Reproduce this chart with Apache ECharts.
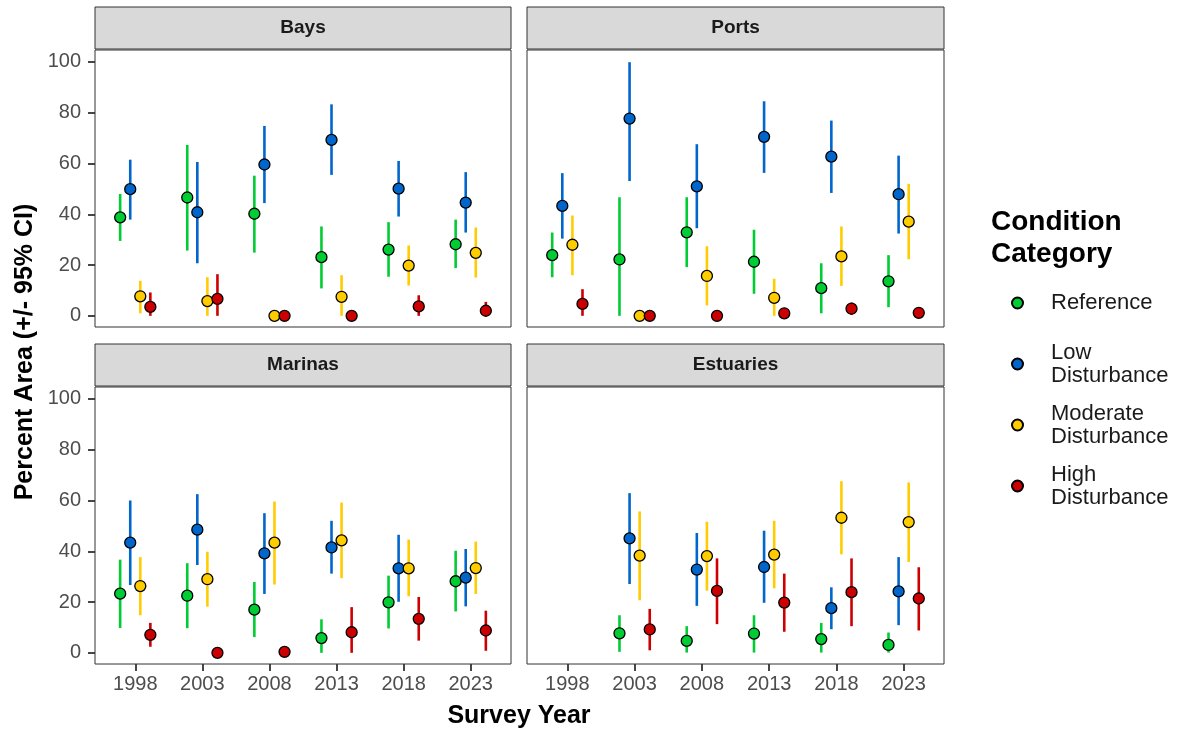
<!DOCTYPE html>
<html>
<head>
<meta charset="utf-8">
<script src="https://cdn.jsdelivr.net/npm/echarts@6/dist/echarts.min.js"></script>
<style>
  html, body { margin: 0; padding: 0; background: #ffffff; }
  #chart { width: 1179px; height: 733px; }
</style>
</head>
<body>
<div id="chart"></div>
<script>
// Survey years and condition categories
const years = ['1998', '2003', '2008', '2013', '2018', '2023'];
const categories = ['Reference', 'Low Disturbance', 'Moderate Disturbance', 'High Disturbance'];
const habitats = ['Bays', 'Ports', 'Marinas', 'Estuaries'];

// Each entry: [estimate, lower 95% CI, upper 95% CI] per survey year (null = not surveyed)
const bays_reference = [[38.8, 29.5, 48.0], [46.6, 25.7, 67.3], [40.2, 24.9, 55.2], [23.1, 10.8, 35.2], [26.1, 15.4, 36.9], [28.2, 18.8, 37.9]];
const bays_low       = [[49.9, 37.9, 61.5], [40.8, 20.7, 60.6], [59.6, 44.4, 74.8], [69.3, 55.5, 83.3], [50.1, 39.1, 61.0], [44.6, 32.8, 56.6]];
const bays_moderate  = [[7.7, 1.0, 13.8], [5.8, 0, 15.2], [0, 0, 0], [7.5, 0, 16.0], [19.8, 11.9, 27.7], [24.8, 15.1, 34.8]];
const bays_high      = [[3.5, 0, 9.2], [6.7, 0, 16.4], [0, 0, 0], [0, 0, 0], [3.7, 0, 8.1], [2.0, 0, 5.5]];

const ports_reference = [[23.9, 15.2, 32.8], [22.2, 0, 46.7], [32.9, 19.2, 46.7], [21.3, 8.7, 33.9], [10.9, 1.0, 20.7], [13.6, 3.4, 23.9]];
const ports_low       = [[43.3, 30.4, 56.2], [77.7, 53.1, 99.9], [51.0, 34.5, 67.6], [70.5, 56.3, 84.5], [62.7, 48.4, 76.9], [47.9, 32.4, 63.1]];
const ports_moderate  = [[28.0, 16.0, 39.5], [0, 0, 0], [15.7, 4.1, 27.4], [7.1, 0, 14.6], [23.4, 11.8, 35.2], [37.1, 22.3, 52.0]];
const ports_high      = [[4.7, 0, 10.5], [0, 0, 0], [0, 0, 0], [1.0, 0, 2.4], [2.8, 0.4, 5.2], [1.2, 0, 2.8]];

const marinas_reference = [[23.3, 9.8, 36.7], [22.5, 9.7, 35.3], [17.0, 6.2, 27.9], [5.8, 0, 13.2], [19.9, 9.6, 30.4], [28.2, 16.3, 40.2]];
const marinas_low       = [[43.4, 26.7, 60.0], [48.5, 34.6, 62.5], [39.2, 23.2, 55.0], [41.5, 31.2, 52.0], [33.3, 20.1, 46.5], [29.6, 18.3, 40.9]];
const marinas_moderate  = [[26.3, 14.8, 37.7], [29.0, 18.2, 39.8], [43.4, 26.9, 59.6], [44.3, 29.4, 59.2], [33.3, 22.3, 44.6], [33.4, 23.2, 43.8]];
const marinas_high      = [[7.1, 2.4, 11.8], [0, 0, 0], [0.4, 0, 1.2], [8.1, 0, 18.0], [13.4, 4.8, 22.0], [8.8, 0.8, 16.6]];

const estuaries_reference = [null, [7.7, 0.4, 14.8], [4.7, 0.1, 10.5], [7.6, 0.1, 14.8], [5.4, 0.1, 11.8], [3.1, 0.1, 8.0]];
const estuaries_low       = [null, [45.1, 27.1, 62.9], [32.8, 18.5, 47.2], [33.8, 19.7, 48.1], [17.6, 9.3, 25.8], [24.2, 10.9, 37.7]];
const estuaries_moderate  = [null, [38.3, 20.7, 55.7], [38.1, 24.5, 51.6], [38.7, 25.4, 52.0], [53.2, 38.8, 67.6], [51.5, 35.8, 67.1]];
const estuaries_high      = [null, [9.2, 1.0, 17.3], [24.4, 11.3, 37.2], [19.8, 8.3, 31.2], [23.9, 10.5, 37.2], [21.4, 8.8, 33.7]];

const yTicks = [0, 20, 40, 60, 80, 100];

// ---- styling / layout ----
const FONT = "'Liberation Sans', Arial, sans-serif";
const colors = ['#00cc33', '#0066cc', '#ffcc00', '#cc0000'];
const dodge = [-0.225, -0.075, 0.075, 0.225];
const panelData = [
  [bays_reference, bays_low, bays_moderate, bays_high],
  [ports_reference, ports_low, ports_moderate, ports_high],
  [marinas_reference, marinas_low, marinas_moderate, marinas_high],
  [estuaries_reference, estuaries_low, estuaries_moderate, estuaries_high]
];
const panels = [
  { left: 95, top: 50, width: 416, height: 277 },
  { left: 527, top: 50, width: 417, height: 277 },
  { left: 95, top: 387, width: 416, height: 277 },
  { left: 527, top: 387, width: 417, height: 277 }
];
const Y_MIN = -4.4, Y_MAX = 104.7;

const grid = panels.map(p => ({
  left: p.left, top: p.top, width: p.width, height: p.height,
  show: true, borderColor: '#333333', borderWidth: 1, backgroundColor: '#ffffff'
}));

const tickStyle = { color: '#333333', width: 1.8 };

const xAxis = panels.map((p, i) => ({
  type: 'value', gridIndex: i, min: 0.4, max: 6.6, position: 'bottom',
  splitLine: { show: false }, axisLine: { show: false, onZero: false },
  axisTick: { show: i >= 2, customValues: [1, 2, 3, 4, 5, 6], length: 7, lineStyle: tickStyle },
  axisLabel: {
    show: i >= 2, customValues: [1, 2, 3, 4, 5, 6], margin: 10,
    formatter: v => years[Math.round(v) - 1] || '',
    color: '#4d4d4d', fontSize: 20, fontFamily: FONT
  }
}));

const yAxis = panels.map((p, i) => ({
  type: 'value', gridIndex: i, min: Y_MIN, max: Y_MAX, position: 'left',
  splitLine: { show: false }, axisLine: { show: false, onZero: false },
  axisTick: { show: i % 2 === 0, customValues: yTicks, length: 7, lineStyle: tickStyle },
  axisLabel: {
    show: i % 2 === 0, customValues: yTicks, margin: 14,
    color: '#4d4d4d', fontSize: 20, fontFamily: FONT
  }
}));

const series = [];
panelData.forEach((cats, pi) => {
  cats.forEach((rows, ci) => {
    const pts = [];
    const bars = [];
    rows.forEach((r, yi) => {
      if (!r) return;
      const x = yi + 1 + dodge[ci];
      pts.push([x, r[0]]);
      bars.push([x, r[1], r[2]]);
    });
    // confidence interval segments
    series.push({
      type: 'custom', name: categories[ci] + ' CI', xAxisIndex: pi, yAxisIndex: pi, z: 2,
      silent: true, data: bars, encode: { x: 0, y: [1, 2] },
      renderItem: (params, api) => {
        const a = api.coord([api.value(0), api.value(1)]);
        const b = api.coord([api.value(0), api.value(2)]);
        return { type: 'line', shape: { x1: a[0], y1: a[1], x2: b[0], y2: b[1] },
                 style: { stroke: colors[ci], lineWidth: 2.6 } };
      }
    });
    // point estimates
    series.push({
      type: 'scatter', name: categories[ci], xAxisIndex: pi, yAxisIndex: pi, z: 3,
      data: pts, symbol: 'circle', symbolSize: 11,
      itemStyle: { color: colors[ci], borderColor: '#000000', borderWidth: 1.3, opacity: 1 }
    });
  });
});

// facet strips
const graphics = [];
panels.forEach((p, i) => {
  const sy = p.top - 43;
  graphics.push({
    type: 'rect', shape: { x: p.left, y: sy, width: p.width, height: 42 },
    style: { fill: '#d9d9d9', stroke: '#333333', lineWidth: 1 }, silent: true
  });
  graphics.push({
    type: 'text', x: p.left + p.width / 2, y: sy + 21,
    style: { text: habitats[i], fill: '#1a1a1a', font: 'bold 19px ' + FONT, textAlign: 'center', textVerticalAlign: 'middle' },
    silent: true
  });
});
// axis titles
graphics.push({
  type: 'text', x: 25, y: 352, rotation: Math.PI / 2,
  style: { text: 'Percent Area (+/- 95% CI)', fill: '#000000', font: 'bold 25px ' + FONT, textAlign: 'center', textVerticalAlign: 'middle' },
  silent: true
});
graphics.push({
  type: 'text', x: 519, y: 716,
  style: { text: 'Survey Year', fill: '#000000', font: 'bold 25px ' + FONT, textAlign: 'center', textVerticalAlign: 'middle' },
  silent: true
});

const chart = echarts.init(document.getElementById('chart'));
chart.setOption({
  animation: false,
  backgroundColor: '#ffffff',
  grid, xAxis, yAxis, series,
  graphic: graphics,
  title: {
    text: 'Condition\nCategory', left: 986, top: 201,
    textStyle: { fontFamily: FONT, fontWeight: 'bold', fontSize: 28, lineHeight: 32, color: '#000000' }
  },
  legend: {
    orient: 'vertical', left: 1006, top: 275, itemGap: 15,
    itemWidth: 11, itemHeight: 11, icon: 'circle', selectedMode: false,
    data: categories.map((c, i) => i === 0
      ? { name: c, textStyle: { lineHeight: 46 } }
      : { name: c }),
    formatter: name => name.replace(' ', '\n'),
    textStyle: { fontFamily: FONT, fontSize: 22, lineHeight: 23, color: '#1a1a1a', padding: [0, 0, 0, 23] }
  }
});
</script>
</body>
</html>
